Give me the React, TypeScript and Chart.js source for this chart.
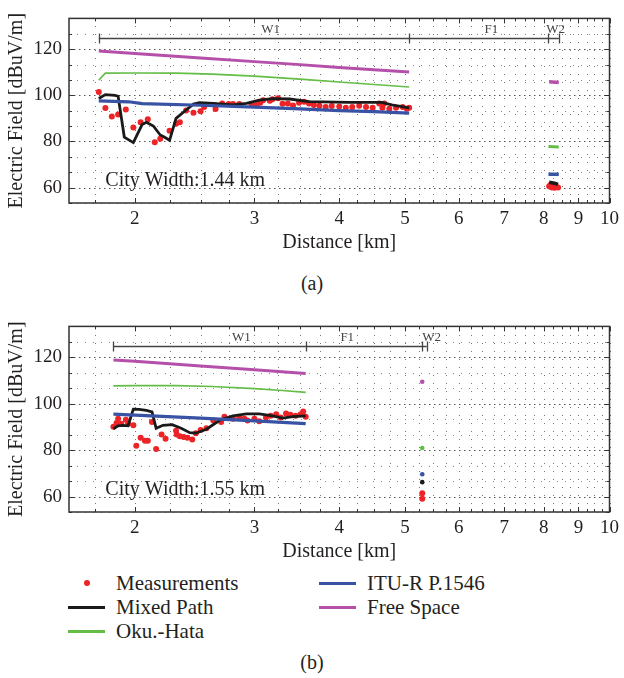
import React, { useEffect, useRef } from "react";
import { Chart, registerables } from "chart.js";
Chart.register(...registerables);

type P = [number, number];

const FONT = "'Liberation Serif', 'Times New Roman', serif";
const TEXT = "#231f20";

// ---- axes ----
const X_MIN = 1.6;
const X_MAX = 10;
const X_TICKS = [1.75, 2, 2.25, 2.5, 2.75, 3, 3.25, 3.5, 3.75, 4, 4.25, 4.5, 4.75, 5, 5.25, 5.5, 5.75, 6, 6.25, 6.5, 6.75, 7, 7.25, 7.5, 7.75, 8, 8.25, 8.5, 8.75, 9, 9.25, 9.5, 9.75, 10];
const X_LABELS = [2, 3, 4, 5, 6, 7, 8, 9, 10];
const Y_MIN = 53.3333;
const Y_MAX = 133.3333;
const Y_TICKS = [53.3333, 60, 66.6667, 73.3333, 80, 86.6667, 93.3333, 100, 106.6667, 113.3333, 120, 126.6667, 133.3333];
const Y_LABELS = [60, 80, 100, 120];

// ---- panel (a) ----
const A_MEAS: P[] = [[1.77,101.4],[1.81,94.5],[1.85,90.8],[1.89,91.7],[1.94,93.8],[1.99,86.1],[2.04,88.3],[2.09,89.6],[2.14,79.7],[2.18,81.2],[2.25,84.6],[2.30,87.7],[2.33,88.3],[2.38,93.4],[2.44,92.4],[2.50,93.1],[2.53,94.9],[2.63,94.1],[2.69,96.5],[2.75,96.2],[2.79,96.2],[2.85,96.2],[2.97,96.2],[3.02,95.8],[3.06,96.8],[3.09,97.9],[3.16,97.6],[3.19,98.3],[3.25,98.7],[3.30,96.3],[3.36,96.5],[3.42,95.6],[3.49,96.8],[3.55,97.2],[3.61,96.4],[3.67,95.8],[3.74,95.5],[3.82,94.9],[3.90,95.4],[4.0,95.1],[4.09,94.6],[4.18,94.9],[4.28,95.5],[4.38,94.9],[4.48,94.6],[4.58,96.5],[4.63,94.6],[4.66,96.5],[4.74,94.2],[4.85,94.6],[4.96,94.9],[5.03,94.2],[5.07,94.6]];
const A_MIXED: P[] = [[1.77,98.6],[1.81,100.3],[1.87,100.0],[1.89,99.6],[1.93,81.9],[1.99,79.5],[2.05,87.3],[2.08,88.3],[2.13,86.7],[2.18,82.8],[2.21,81.9],[2.25,80.5],[2.30,90.0],[2.37,93.2],[2.44,96.2],[2.49,96.8],[2.61,96.5],[2.79,95.9],[2.92,96.5],[3.05,97.9],[3.19,98.6],[3.38,98.4],[3.61,97.3],[4.14,96.9],[4.62,96.9],[4.78,95.9],[5.07,94.6]];
const A_HATA: P[] = [[1.77,106.6],[1.81,109.6],[2.0,109.7],[2.3,109.6],[2.6,109.2],[3.0,108.3],[3.5,107.0],[4.0,105.8],[4.5,104.7],[5.07,103.6]];
const A_ITU: P[] = [[1.77,97.6],[1.96,97.2],[2.05,96.4],[2.5,95.7],[3.0,94.9],[3.5,94.1],[4.0,93.4],[4.5,92.9],[5.07,92.3]];
const A_FS: P[] = [[1.77,119.2],[2.0,118.1],[2.5,116.2],[3.0,114.6],[3.5,113.3],[4.0,112.1],[4.5,111.1],[5.07,110.1]];
const A_MEAS_W2: P[] = [[8.15,60.6],[8.19,61.2],[8.22,60.0],[8.26,60.4],[8.3,59.9],[8.34,60.5],[8.4,60.0]];
const A_MIXED_W2: P[] = [[8.15,62.3],[8.3,61.9],[8.4,61.4]];
const A_HATA_W2: P[] = [[8.13,77.8],[8.42,77.6]];
const A_ITU_W2: P[] = [[8.13,65.8],[8.42,65.8]];
const A_FS_W2: P[] = [[8.15,105.9],[8.42,105.6]];
const A_SEG_BOUNDS = [1.77, 5.07, 8.11, 8.42];
const A_SEG_NAMES = ["W1", "F1", "W2"];
const A_SEG_LABEL_X = [3.17, 6.7, 8.33];
const A_CITY = "City Width:1.44 km";

// ---- panel (b) ----
const B_MEAS: P[] = [[1.86,90.1],[1.88,91.7],[1.89,93.5],[1.91,91.4],[1.94,93.1],[1.955,91.4],[1.99,90.7],[2.01,81.9],[2.04,85.3],[2.07,84.0],[2.09,84.0],[2.12,92.1],[2.15,80.5],[2.19,86.7],[2.22,84.9],[2.30,88.4],[2.305,86.7],[2.33,86.0],[2.36,85.7],[2.39,85.3],[2.43,84.6],[2.46,87.3],[2.50,88.7],[2.55,89.4],[2.61,92.8],[2.68,92.1],[2.71,94.4],[2.79,93.5],[2.85,94.1],[2.90,93.5],[2.93,92.8],[3.0,93.5],[3.05,92.5],[3.12,94.1],[3.17,94.8],[3.23,95.5],[3.28,94.1],[3.34,95.8],[3.39,95.2],[3.45,94.8],[3.51,95.5],[3.54,96.6],[3.57,94.4]];
const B_MIXED: P[] = [[1.86,89.2],[1.89,90.5],[1.92,90.7],[1.955,90.5],[1.99,97.7],[2.03,97.6],[2.08,97.1],[2.12,96.5],[2.15,89.4],[2.20,90.7],[2.27,91.0],[2.34,89.4],[2.41,87.5],[2.46,87.3],[2.55,89.0],[2.67,93.0],[2.79,94.8],[2.92,95.6],[3.05,95.6],[3.19,94.8],[3.30,93.8],[3.42,94.4],[3.57,94.8]];
const B_HATA: P[] = [[1.86,107.7],[2.0,107.8],[2.3,107.8],[2.6,107.4],[3.0,106.5],[3.3,105.7],[3.57,104.9]];
const B_ITU: P[] = [[1.86,95.5],[2.0,95.1],[2.5,93.8],[3.0,92.6],[3.57,91.4]];
const B_FS: P[] = [[1.86,118.9],[2.0,118.3],[2.5,116.3],[3.0,114.7],[3.57,113.0]];
const B_MEAS_W2: P[] = [[5.3,61.4],[5.3,59.0]];
const B_MIXED_W2: P[] = [[5.3,66.2]];
const B_HATA_W2: P[] = [[5.3,80.9]];
const B_ITU_W2: P[] = [[5.3,69.6]];
const B_FS_W2: P[] = [[5.3,109.5]];
const B_SEG_BOUNDS = [1.86, 3.57, 5.29, 5.38];
const B_SEG_NAMES = ["W1", "F1", "W2"];
const B_SEG_LABEL_X = [2.87, 4.11, 5.47];
const B_CITY = "City Width:1.55 km";

const SEG_Y = 125;
const SEG_LABEL_Y = 128.6;
const CITY_X = 1.81;
const CITY_Y = 63;

const C_MEAS = "#ec2327";
const C_MIXED = "#1a1a1a";
const C_HATA = "#64bd47";
const C_ITU = "#3852a4";
const C_FS = "#b450a9";

type Panel = {
  meas: P[]; mixed: P[]; hata: P[]; itu: P[]; fs: P[];
  measW2: P[]; mixedW2: P[]; hataW2: P[]; ituW2: P[]; fsW2: P[];
  bounds: number[]; names: string[]; labelX: number[]; city: string;
};

const PANEL_A: Panel = { meas: A_MEAS, mixed: A_MIXED, hata: A_HATA, itu: A_ITU, fs: A_FS, measW2: A_MEAS_W2, mixedW2: A_MIXED_W2, hataW2: A_HATA_W2, ituW2: A_ITU_W2, fsW2: A_FS_W2, bounds: A_SEG_BOUNDS, names: A_SEG_NAMES, labelX: A_SEG_LABEL_X, city: A_CITY };
const PANEL_B: Panel = { meas: B_MEAS, mixed: B_MIXED, hata: B_HATA, itu: B_ITU, fs: B_FS, measW2: B_MEAS_W2, mixedW2: B_MIXED_W2, hataW2: B_HATA_W2, ituW2: B_ITU_W2, fsW2: B_FS_W2, bounds: B_SEG_BOUNDS, names: B_SEG_NAMES, labelX: B_SEG_LABEL_X, city: B_CITY };

const near = (arr: number[], v: number, eps: number) => arr.some((a) => Math.abs(a - v) < eps);

function lineDs(pts: P[], color: string, width: number, order: number) {
  const single = pts.length === 1;
  return {
    data: pts.map(([x, y]) => ({ x, y })),
    showLine: !single,
    borderColor: color,
    backgroundColor: color,
    borderWidth: width,
    pointRadius: single ? 2.3 : 0,
    pointBorderWidth: 0,
    tension: 0,
    order,
  };
}
function measDs(pts: P[]) {
  return {
    data: pts.map(([x, y]) => ({ x, y })),
    showLine: false,
    backgroundColor: C_MEAS,
    borderColor: C_MEAS,
    pointRadius: 3,
    pointBorderWidth: 0,
    order: 10,
  };
}

function decoPlugin(p: Panel) {
  return {
    id: "deco",
    beforeDatasetsDraw(chart: any) {
      const { ctx, chartArea: a, scales } = chart;
      const x = scales.x, y = scales.y;
      ctx.save();
      ctx.lineWidth = 1;
      ctx.strokeStyle = "#777";
      ctx.setLineDash([1, 7]);
      for (const t of X_TICKS) {
        const px = Math.round(x.getPixelForValue(t)) + 0.5;
        ctx.beginPath(); ctx.moveTo(px, a.bottom); ctx.lineTo(px, a.top); ctx.stroke();
      }
      for (const t of Y_TICKS) {
        const major = near(Y_LABELS, t, 0.01);
        ctx.setLineDash(major ? [1.5, 3.5] : [1, 7]);
        ctx.strokeStyle = major ? "#555" : "#888";
        const py = Math.round(y.getPixelForValue(t)) + 0.5;
        ctx.beginPath(); ctx.moveTo(a.left, py); ctx.lineTo(a.right, py); ctx.stroke();
      }
      ctx.restore();
    },
    afterDatasetsDraw(chart: any) {
      const { ctx, chartArea: a, scales } = chart;
      const x = scales.x, y = scales.y;
      ctx.save();
      ctx.setLineDash([]);
      ctx.strokeStyle = "#333";
      ctx.lineWidth = 1;
      for (const t of X_TICKS) {
        const px = Math.round(x.getPixelForValue(t)) + 0.5;
        const len = near(X_LABELS, t, 1e-6) ? 5 : 3;
        ctx.beginPath();
        ctx.moveTo(px, a.bottom); ctx.lineTo(px, a.bottom - len);
        ctx.moveTo(px, a.top); ctx.lineTo(px, a.top + len);
        ctx.stroke();
      }
      for (const t of Y_TICKS) {
        const py = Math.round(y.getPixelForValue(t)) + 0.5;
        const len = near(Y_LABELS, t, 0.01) ? 5 : 3;
        ctx.beginPath();
        ctx.moveTo(a.left, py); ctx.lineTo(a.left + len, py);
        ctx.moveTo(a.right, py); ctx.lineTo(a.right - len, py);
        ctx.stroke();
      }
      ctx.lineWidth = 1.5;
      ctx.strokeRect(a.left, a.top, a.right - a.left, a.bottom - a.top);
      ctx.lineWidth = 1.3;
      ctx.strokeStyle = "#444";
      const sy = Math.round(y.getPixelForValue(SEG_Y)) + 0.5;
      const b0 = x.getPixelForValue(p.bounds[0]);
      const b1 = x.getPixelForValue(p.bounds[p.bounds.length - 1]);
      ctx.beginPath(); ctx.moveTo(b0, sy); ctx.lineTo(b1, sy); ctx.stroke();
      for (const b of p.bounds) {
        const bx = Math.round(x.getPixelForValue(b)) + 0.5;
        ctx.beginPath(); ctx.moveTo(bx, sy - 5); ctx.lineTo(bx, sy + 5); ctx.stroke();
      }
      ctx.fillStyle = "#444";
      ctx.font = `13px ${FONT}`;
      ctx.textAlign = "center";
      ctx.textBaseline = "middle";
      p.names.forEach((n, i) => {
        ctx.fillText(n, x.getPixelForValue(p.labelX[i]), y.getPixelForValue(SEG_LABEL_Y));
      });
      ctx.fillStyle = TEXT;
      ctx.font = `20px ${FONT}`;
      ctx.textAlign = "left";
      ctx.fillText(p.city, x.getPixelForValue(CITY_X), y.getPixelForValue(CITY_Y));
      ctx.restore();
    },
  };
}

function buildConfig(p: Panel): any {
  const datasets = [
    measDs(p.meas), measDs(p.measW2),
    lineDs(p.mixed, C_MIXED, 2.8, 5), lineDs(p.mixedW2, C_MIXED, 3.5, 5),
    lineDs(p.hata, C_HATA, 1.6, 4), lineDs(p.hataW2, C_HATA, 3, 4),
    lineDs(p.itu, C_ITU, 3.2, 3), lineDs(p.ituW2, C_ITU, 3.5, 3),
    lineDs(p.fs, C_FS, 3, 2), lineDs(p.fsW2, C_FS, 3.5, 2),
  ];
  return {
    type: "scatter",
    data: { datasets },
    options: {
      responsive: false,
      animation: false,
      events: [],
      layout: { padding: { top: 10, right: 12, left: 0, bottom: 0 } },
      plugins: { legend: { display: false }, tooltip: { enabled: false } },
      scales: {
        x: {
          type: "logarithmic",
          min: X_MIN,
          max: X_MAX,
          afterBuildTicks: (s: any) => { s.ticks = X_TICKS.map((v) => ({ value: v })); },
          afterFit: (s: any) => { s.height = 57; },
          grid: { display: false, drawTicks: false },
          border: { display: false },
          ticks: {
            autoSkip: false, maxRotation: 0, minRotation: 0, padding: 5, color: TEXT,
            font: { family: FONT, size: 19 },
            callback: (v: any) => (near(X_LABELS, +v, 1e-6) ? String(Math.round(+v)) : ""),
          },
          title: { display: true, text: "Distance [km]", color: TEXT, font: { family: FONT, size: 20 }, padding: { top: 0, bottom: 5 } },
        },
        y: {
          type: "linear",
          min: Y_MIN,
          max: Y_MAX,
          afterBuildTicks: (s: any) => { s.ticks = Y_TICKS.map((v) => ({ value: v })); },
          afterFit: (s: any) => { s.width = 69; },
          grid: { display: false, drawTicks: false },
          border: { display: false },
          ticks: {
            autoSkip: false, padding: 7, color: TEXT,
            font: { family: FONT, size: 19 },
            callback: (v: any) => (near(Y_LABELS, +v, 0.01) ? String(Math.round(+v)) : ""),
          },
          title: { display: true, text: "Electric Field [dBuV/m]", color: TEXT, font: { family: FONT, size: 20 }, padding: { top: 5, bottom: 0 } },
        },
      },
    },
    plugins: [decoPlugin(p)],
  };
}

function PanelChart({ top, height, panel }: { top: number; height: number; panel: Panel }) {
  const ref = useRef<HTMLCanvasElement>(null);
  useEffect(() => {
    const chart = new Chart(ref.current as HTMLCanvasElement, buildConfig(panel));
    return () => chart.destroy();
  }, [panel]);
  return (
    <canvas ref={ref} width={624} height={height}
      style={{ position: "absolute", left: 0, top, width: 624, height, display: "block" }} />
  );
}

const LEGEND = [
  { label: "Measurements", color: C_MEAS, kind: "dot", col: 0, row: 0 },
  { label: "Mixed Path", color: C_MIXED, kind: "line", col: 0, row: 1 },
  { label: "Oku.-Hata", color: C_HATA, kind: "line", col: 0, row: 2 },
  { label: "ITU-R P.1546", color: C_ITU, kind: "line", col: 1, row: 0 },
  { label: "Free Space", color: C_FS, kind: "line", col: 1, row: 1 },
];
const LEGEND_COL_X = [68, 319];
const LEGEND_ROW_Y = [583, 607, 631];

const textStyle: React.CSSProperties = {
  position: "absolute", fontFamily: FONT, fontSize: 20, lineHeight: "24px", color: TEXT, whiteSpace: "nowrap",
};

export default function App() {
  return (
    <div style={{ position: "absolute", left: 0, top: 0, width: 624, height: 678, background: "#fff", overflow: "hidden" }}>
      <PanelChart top={0} height={260} panel={PANEL_A} />
      <div style={{ ...textStyle, left: 0, width: 624, textAlign: "center", top: 271 }}>(a)</div>
      <PanelChart top={308} height={261} panel={PANEL_B} />
      {LEGEND.map((it) => {
        const x0 = LEGEND_COL_X[it.col];
        const cy = LEGEND_ROW_Y[it.row];
        return (
          <React.Fragment key={it.label}>
            {it.kind === "dot" ? (
              <div style={{ position: "absolute", left: x0 + 16, top: cy - 3, width: 6, height: 6, borderRadius: "50%", background: it.color }} />
            ) : (
              <div style={{ position: "absolute", left: x0, top: cy - 1.5, width: 37, height: 3, background: it.color }} />
            )}
            <div style={{ ...textStyle, fontSize: 21, left: x0 + 48, top: cy - 12 }}>{it.label}</div>
          </React.Fragment>
        );
      })}
      <div style={{ ...textStyle, left: 0, width: 624, textAlign: "center", top: 650 }}>(b)</div>
    </div>
  );
}
